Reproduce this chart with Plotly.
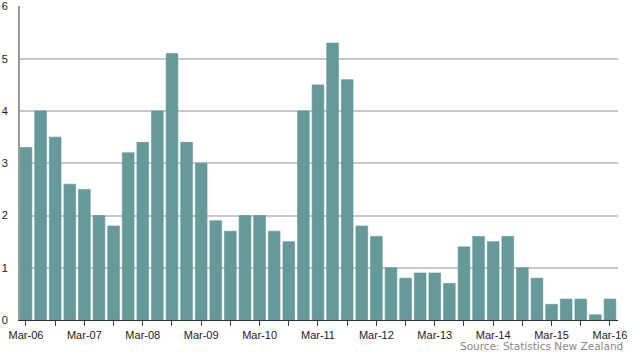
import plotly.graph_objects as go

quarters = [
    "Mar-06", "Jun-06", "Sep-06", "Dec-06",
    "Mar-07", "Jun-07", "Sep-07", "Dec-07",
    "Mar-08", "Jun-08", "Sep-08", "Dec-08",
    "Mar-09", "Jun-09", "Sep-09", "Dec-09",
    "Mar-10", "Jun-10", "Sep-10", "Dec-10",
    "Mar-11", "Jun-11", "Sep-11", "Dec-11",
    "Mar-12", "Jun-12", "Sep-12", "Dec-12",
    "Mar-13", "Jun-13", "Sep-13", "Dec-13",
    "Mar-14", "Jun-14", "Sep-14", "Dec-14",
    "Mar-15", "Jun-15", "Sep-15", "Dec-15",
    "Mar-16",
]
values = [
    3.3, 4.0, 3.5, 2.6,
    2.5, 2.0, 1.8, 3.2,
    3.4, 4.0, 5.1, 3.4,
    3.0, 1.9, 1.7, 2.0,
    2.0, 1.7, 1.5, 4.0,
    4.5, 5.3, 4.6, 1.8,
    1.6, 1.0, 0.8, 0.9,
    0.9, 0.7, 1.4, 1.6,
    1.5, 1.6, 1.0, 0.8,
    0.3, 0.4, 0.4, 0.1,
    0.4,
]
tick_labels = ["Mar-06", "Mar-07", "Mar-08", "Mar-09", "Mar-10", "Mar-11",
               "Mar-12", "Mar-13", "Mar-14", "Mar-15", "Mar-16"]
y_ticks = [0, 1, 2, 3, 4, 5, 6]

idx = list(range(len(quarters)))
tick_pos = [quarters.index(t) for t in tick_labels]

fig = go.Figure()
fig.add_trace(go.Bar(
    x=idx, y=values, customdata=quarters,
    marker=dict(color="#669999", line=dict(color="#5e9494", width=0.6)),
    width=0.8,
    hovertemplate="%{customdata}: %{y}<extra></extra>",
))

fig.update_layout(
    width=640, height=356,
    margin=dict(l=20, r=22, t=6, b=36, autoexpand=False),
    paper_bgcolor="white", plot_bgcolor="white",
    showlegend=False,
    font=dict(family="Liberation Sans, Arial, sans-serif", size=11, color="#222222"),
    bargap=0.2,
    annotations=[dict(
        text="Source: Statistics New Zealand",
        xref="paper", yref="paper", x=1.012, y=-0.058,
        xanchor="right", yanchor="top", showarrow=False,
        font=dict(family="DejaVu Sans, sans-serif", size=10.5, color="#888888"),
    )],
)
fig.update_xaxes(
    automargin=False,
    range=[-0.41, 40.55],
    tickmode="array", tickvals=tick_pos, ticktext=tick_labels,
    ticks="outside", ticklen=5, tickcolor="#444444", tickwidth=1,
    showgrid=False, zeroline=False,
    showline=True, linecolor="#333333", linewidth=1,
    tickfont=dict(size=11, color="#222222"),
    minor=dict(tickmode="linear", tick0=0, dtick=2, ticks="outside",
               ticklen=5, tickcolor="#444444", showgrid=False),
)
fig.update_yaxes(
    automargin=False,
    range=[0, 6.01],
    tickmode="array", tickvals=y_ticks,
    showgrid=True, gridcolor="#c8c8c8", gridwidth=1.5,
    zeroline=False,
    showline=True, linecolor="#999999", linewidth=2,
    ticks="", ticklabelstandoff=8,
    tickfont=dict(size=11, color="#222222"),
)

fig.write_html("out.html",
               config={"displayModeBar": False},
               post_script="document.body.style.margin='0';document.body.style.overflow='hidden';")
